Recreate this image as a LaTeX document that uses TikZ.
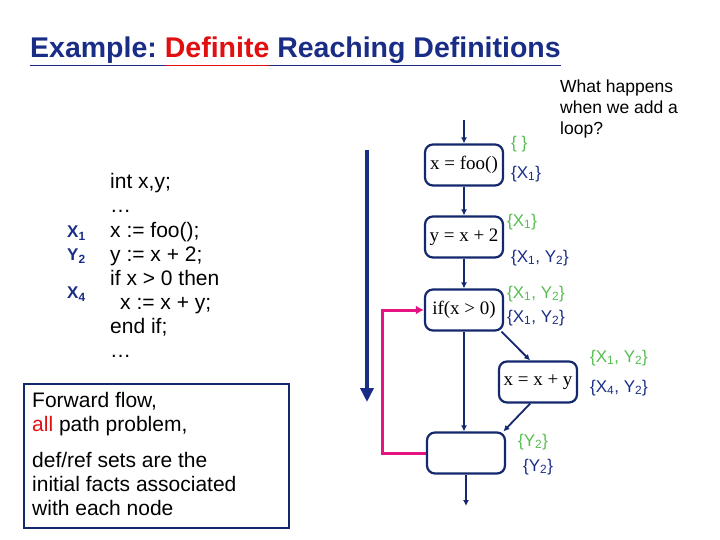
\documentclass[tikz,border=0pt]{standalone}
\usepackage{fontspec}
\setmainfont{Liberation Sans}
\newfontfamily\flowfont{Liberation Serif}
\usetikzlibrary{arrows.meta}

\definecolor{navy}{RGB}{25,45,135}
\definecolor{boxblue}{RGB}{20,40,110}
\definecolor{defred}{RGB}{225,15,15}
\definecolor{ingreen}{RGB}{85,190,80}
\definecolor{loopink}{RGB}{230,20,130}

\tikzset{
  stmt/.style={draw=boxblue, line width=2.2pt, rounded corners=8pt,
    minimum width=78pt, minimum height=41pt, inner sep=2pt,
    font=\flowfont\fontsize{19}{22}\selectfont},
  edge/.style={draw=boxblue, line width=1.8pt, -{Latex[length=6pt,width=6pt]}},
  backedge/.style={draw=loopink, line width=3pt, -{Latex[length=8pt,width=9pt]}},
  inset/.style={text=ingreen, inner sep=0pt, anchor=west, font=\fontsize{17}{20}\selectfont},
  outset/.style={text=navy, inner sep=0pt, anchor=west, font=\fontsize{17}{20}\selectfont},
  code/.style={inner sep=0pt, anchor=base west, font=\fontsize{21}{24}\selectfont},
  note/.style={inner sep=0pt, anchor=base west, font=\fontsize{21}{24}\selectfont},
  deflabel/.style={text=navy, inner sep=0pt, anchor=west, font=\bfseries\fontsize{17}{20}\selectfont},
}

\begin{document}
\begin{tikzpicture}[x=1pt,y=-1pt]
  \useasboundingbox (0,0) rectangle (720,540);
  % title
  \node[anchor=base west, inner sep=0pt, text=navy, font=\bfseries\fontsize{28.5}{32}\selectfont]
    (title) at (30,58) {\underline{\vphantom{p}Example:\ }\textcolor{defred}{\underline{\vphantom{p}Definite}}\underline{\vphantom{p}\ Reaching Definitions}};
  \node[anchor=base west, inner sep=0pt, align=left, font=\fontsize{17.5}{21}\selectfont]
    (question) at (560,135) {What happens\\when we add a\\loop?};
  % source program
  \foreach \src [count=\i] in {{int x,y;}, \ldots, {x := foo();}, {y := x + 2;},
      {if x > 0 then}, {\hspace*{10pt}x := x + y;}, {end if;}, \ldots}
    \node[code] (src-\i) at (110,165+24*\i) {\src};
  \node[deflabel] (def-x1) at (67,233) {X\textsubscript{1}};
  \node[deflabel] (def-y2) at (67,256) {Y\textsubscript{2}};
  \node[deflabel] (def-x4) at (67,294) {X\textsubscript{4}};
  % notes
  \node[draw=boxblue, line width=1.6pt, anchor=north west, minimum width=265pt,
    minimum height=144pt] (notes) at (23,383) {};
  \node[note] (note-1) at (32,407) {Forward flow,};
  \node[note] (note-2) at (32,431) {\textcolor{defred}{all} path problem,};
  \node[note] (note-3) at (32,467) {def/ref sets are the};
  \node[note] (note-4) at (32,491) {initial facts associated};
  \node[note] (note-5) at (32,515) {with each node};
  % direction of flow
  \coordinate (flowtop) at (367,150);
  \coordinate (flowbot) at (367,402);
  \path[draw=navy, line width=4pt, -{Triangle[length=14pt,width=13pt]}] (flowtop) -- (flowbot);
  % flow graph
  \node[stmt] (foo) at (464,165) {x = foo()};
  \node[stmt] (addy) at (464,237) {y = x + 2};
  \node[stmt] (cond) at (464,310) {if(x > 0)};
  \node[stmt] (incx) at (538,382) {x = x + y};
  \node[stmt] (join) at (466,453) {};
  \coordinate (entry) at (464,120);
  \coordinate (exit) at (466,506);
  \path[edge] (entry) -- (foo);
  \path[edge] (foo) -- (addy);
  \path[edge] (addy) -- (cond);
  \path[edge] (cond) -- (cond.south |- join.north);
  \path[edge] (cond.-30) -- (incx.110);
  \path[edge] (incx.-110) -- (join.30);
  \path[edge] (join) -- (exit);
  \path[backedge] (join.west) -- ++(-43,0) |- (cond.west);
  % facts in and out
  \node[inset] (foo-in) at (511,144) {\{ \}};
  \node[outset] (foo-out) at (511,174) {\{X\textsubscript{1}\}};
  \node[inset] (addy-in) at (507,222) {\{X\textsubscript{1}\}};
  \node[outset] (addy-out) at (511,258) {\{X\textsubscript{1}, Y\textsubscript{2}\}};
  \node[inset] (cond-in) at (507,294) {\{X\textsubscript{1}, Y\textsubscript{2}\}};
  \node[outset] (cond-out) at (507,318) {\{X\textsubscript{1}, Y\textsubscript{2}\}};
  \node[inset] (incx-in) at (590,358) {\{X\textsubscript{1}, Y\textsubscript{2}\}};
  \node[outset] (incx-out) at (590,388) {\{X\textsubscript{4}, Y\textsubscript{2}\}};
  \node[inset] (join-in) at (518,442) {\{Y\textsubscript{2}\}};
  \node[outset] (join-out) at (523,467) {\{Y\textsubscript{2}\}};
\end{tikzpicture}
\end{document}
